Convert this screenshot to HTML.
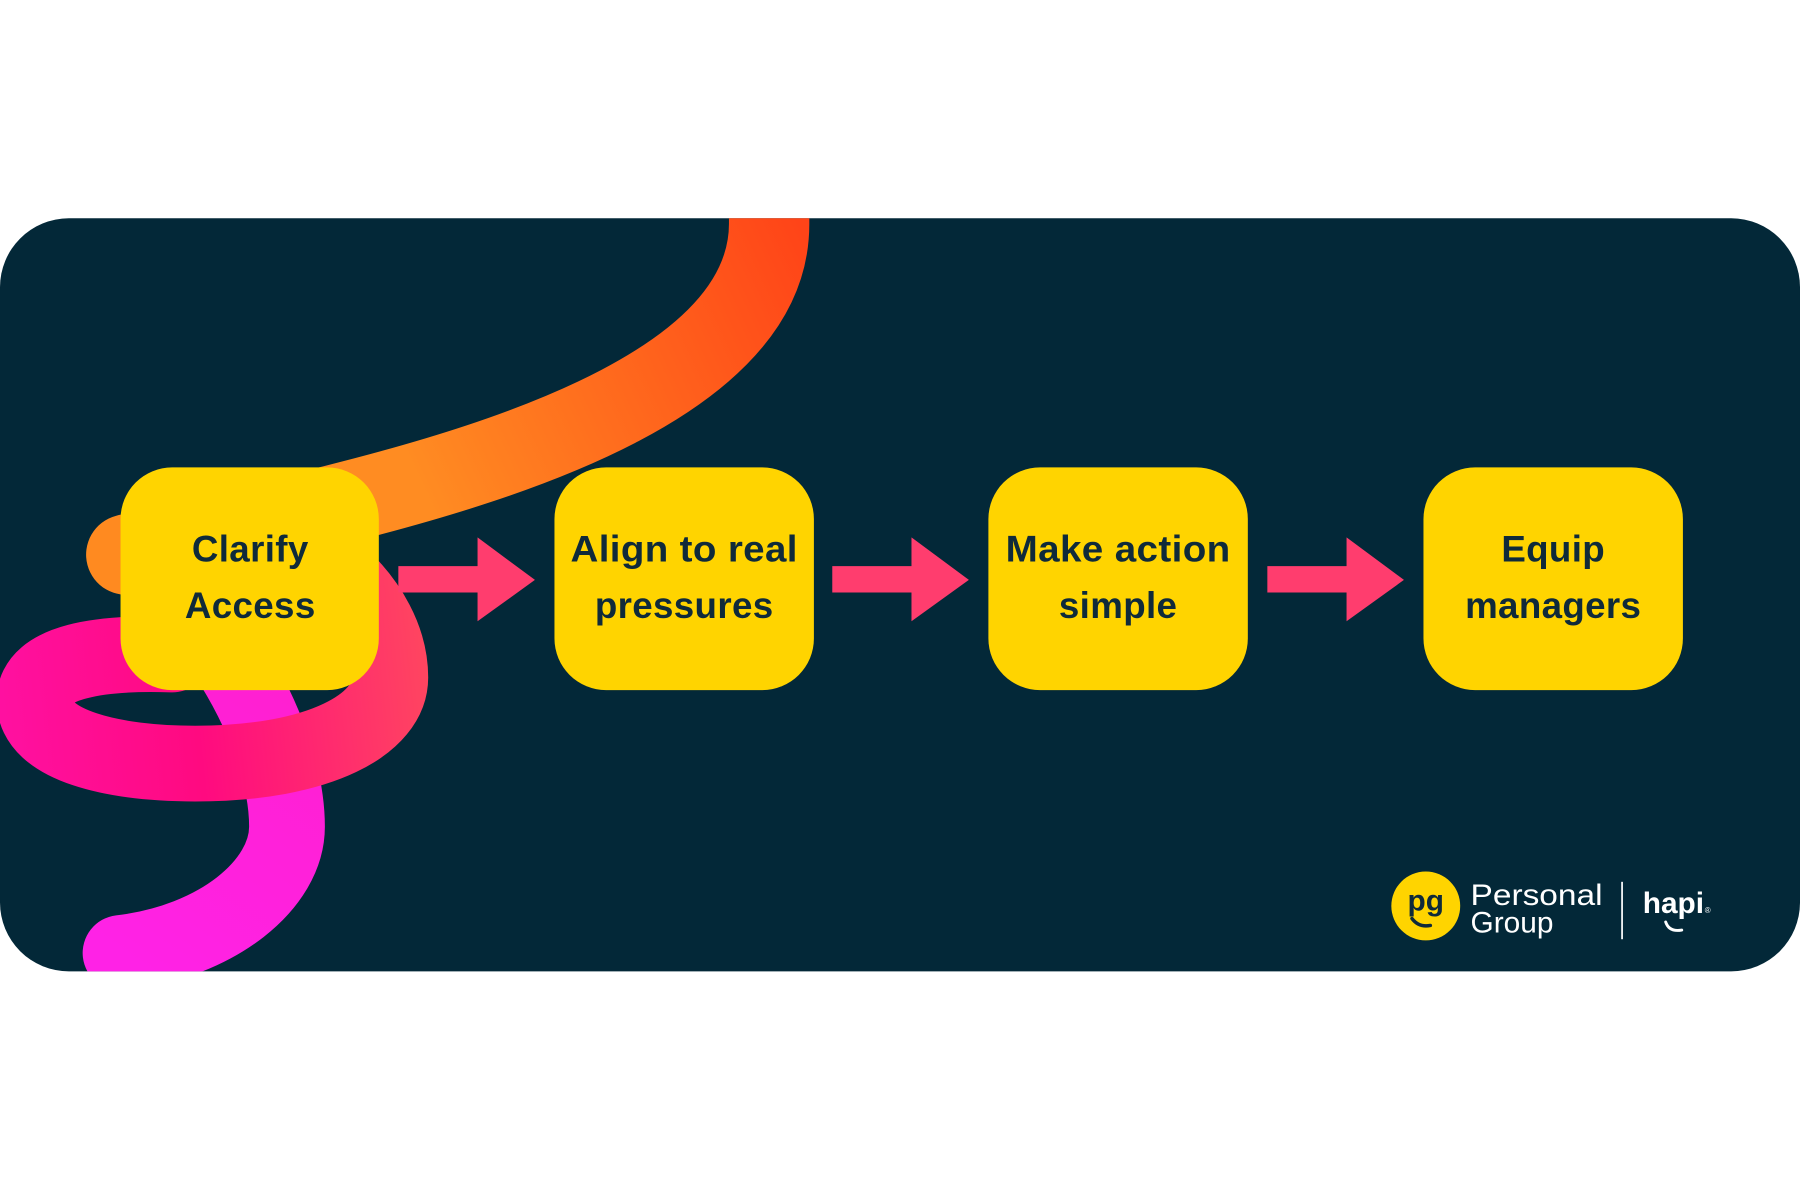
<!DOCTYPE html>
<html><head><meta charset="utf-8"><style>
html,body{margin:0;padding:0;background:#fff;}
svg{display:block}
</style></head><body>
<svg width="1800" height="1200" viewBox="0 0 1568 1045" xmlns="http://www.w3.org/2000/svg">
<defs>
<clipPath id="pc"><rect x="0" y="190" width="1568" height="656" rx="60"/></clipPath>
<linearGradient id="og" x1="700" y1="200" x2="100" y2="480" gradientUnits="userSpaceOnUse">
<stop offset="0" stop-color="#ff4418"/><stop offset="0.6" stop-color="#ff8c22"/><stop offset="1" stop-color="#ff8a20"/></linearGradient>
<linearGradient id="pg" x1="100" y1="830" x2="260" y2="600" gradientUnits="userSpaceOnUse">
<stop offset="0" stop-color="#ff22e6"/><stop offset="1" stop-color="#ff20d0"/></linearGradient>
<linearGradient id="rg" x1="0" y1="600" x2="370" y2="560" gradientUnits="userSpaceOnUse">
<stop offset="0" stop-color="#ff10a0"/><stop offset="0.45" stop-color="#ff0a80"/><stop offset="1" stop-color="#ff4560"/></linearGradient>
</defs>
<rect x="0" y="190" width="1568" height="656" rx="60" fill="#032838"/>
<g clip-path="url(#pc)" fill="none" stroke-linecap="round">
<path d="M670,150 L670,195 C670,330 450,400 290,440 C200,462 140,475 110,483" stroke="url(#og)" stroke-width="70"/>
<path d="M105,830 C190,820 250,770 250,720 C250,670 225,610 190,560" stroke="url(#pg)" stroke-width="66"/>
<path d="M150,570 C90,568 30,575 30,610 C30,650 100,665 170,665 C280,665 340,630 340,590 C340,555 320,525 300,505" stroke="url(#rg)" stroke-width="66"/>
</g>
<g fill="#ffd400">
<rect x="105" y="407" width="225" height="194" rx="45"/>
<rect x="483" y="407" width="226" height="194" rx="45"/>
<rect x="861" y="407" width="226" height="194" rx="45"/>
<rect x="1240" y="407" width="226" height="194" rx="45"/>
</g>
<g fill="#ff3d6e">
<polygon points="347,493 416,493 416,468 466,505 416,541 416,516 347,516"/>
<polygon points="725,493 794,493 794,468 844,505 794,541 794,516 725,516"/>
<polygon points="1104,493 1173,493 1173,468 1223,505 1173,541 1173,516 1104,516"/>
</g>
<g font-family="'Liberation Sans',sans-serif" font-weight="bold" font-size="32" fill="#0f2a3a" text-anchor="middle" letter-spacing="0.3">
<text x="218" y="489">Clarify</text><text x="218" y="538">Access</text>
<text x="596" y="489" textLength="198" lengthAdjust="spacingAndGlyphs">Align to real</text><text x="596" y="538">pressures</text>
<text x="974" y="489" textLength="196" lengthAdjust="spacingAndGlyphs">Make action</text><text x="974" y="538">simple</text>
<text x="1353" y="489">Equip</text><text x="1353" y="538">managers</text>
</g>
<circle cx="1242" cy="789" r="30" fill="#ffd400"/>
<text x="1242" y="793" font-family="'Liberation Sans',sans-serif" font-weight="bold" font-size="26" fill="#0f2a3a" text-anchor="middle">pg</text>
<path d="M1230,800 Q1236,808 1246,806" stroke="#0f2a3a" stroke-width="3" fill="none" stroke-linecap="round"/>
<g font-family="'Liberation Sans',sans-serif" fill="#fff" font-size="26">
<text x="1281" y="788" textLength="115" lengthAdjust="spacingAndGlyphs">Personal</text><text x="1281" y="812">Group</text>
</g>
<line x1="1413" y1="768" x2="1413" y2="818" stroke="#fff" stroke-width="1.5"/>
<text x="1431" y="795" font-family="'Liberation Sans',sans-serif" font-weight="bold" font-size="26" fill="#fff">hapi</text>
<text x="1485" y="795" font-family="'Liberation Sans',sans-serif" font-size="7" fill="#fff">®</text>
<path d="M1451,803 Q1454,812 1465,810" stroke="#fff" stroke-width="2.5" fill="none" stroke-linecap="round"/>
</svg>
</body></html>
